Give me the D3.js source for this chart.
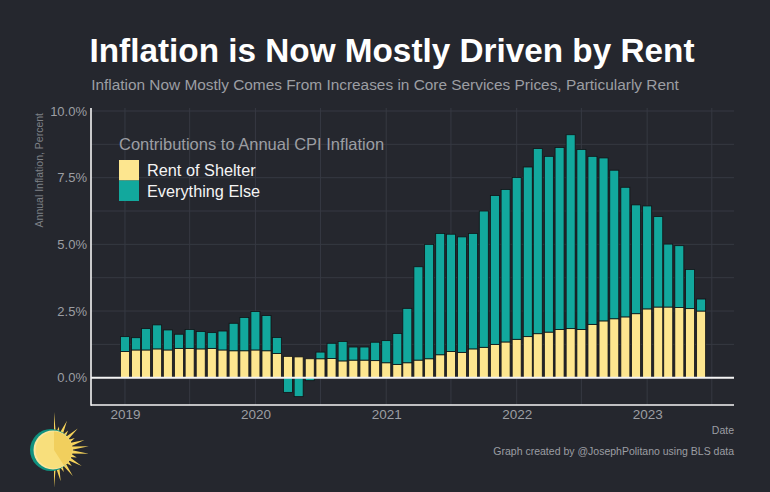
<!DOCTYPE html>
<html>
<head>
<meta charset="utf-8">
<script src="https://cdn.jsdelivr.net/npm/d3@7"></script>
<style>
  html, body { margin: 0; padding: 0; background: #25272e; }
  svg { display: block; font-family: "Liberation Sans", Arial, sans-serif; }
</style>
</head>
<body>
<div id="chart"></div>
<script>
// months shown, Jan 2019 .. Jun 2023
var months = [
  "2019-01","2019-02","2019-03","2019-04","2019-05","2019-06","2019-07","2019-08","2019-09","2019-10","2019-11","2019-12",
  "2020-01","2020-02","2020-03","2020-04","2020-05","2020-06","2020-07","2020-08","2020-09","2020-10","2020-11","2020-12",
  "2021-01","2021-02","2021-03","2021-04","2021-05","2021-06","2021-07","2021-08","2021-09","2021-10","2021-11","2021-12",
  "2022-01","2022-02","2022-03","2022-04","2022-05","2022-06","2022-07","2022-08","2022-09","2022-10","2022-11","2022-12",
  "2023-01","2023-02","2023-03","2023-04","2023-05","2023-06"
];

// contribution of rent of shelter, percentage points
var rentOfShelter = [
  0.98,1.04,1.04,1.08,1.04,1.10,1.10,1.08,1.10,1.04,1.01,1.01,
  1.04,1.01,0.91,0.80,0.78,0.71,0.71,0.72,0.63,0.66,0.66,0.64,
  0.56,0.50,0.56,0.66,0.71,0.86,0.98,0.95,1.08,1.14,1.25,1.34,
  1.44,1.54,1.65,1.71,1.81,1.84,1.81,2.00,2.13,2.21,2.28,2.40,
  2.58,2.65,2.65,2.63,2.59,2.50
];

// contribution of everything else, percentage points
var everythingElse = [
  0.56,0.46,0.80,0.90,0.75,0.53,0.71,0.65,0.59,0.71,1.03,1.25,
  1.44,1.32,0.60,-0.55,-0.71,-0.11,0.25,0.57,0.73,0.49,0.49,0.69,
  0.83,1.16,2.04,3.50,4.29,4.55,4.40,4.33,4.33,5.11,5.58,5.72,
  6.07,6.36,6.94,6.59,6.82,7.27,6.75,6.30,6.11,5.57,4.86,4.08,
  3.86,3.39,2.36,2.32,1.47,0.45
];

var yTicks = [0, 2.5, 5, 7.5, 10];
var yearTicks = ["2019-01-01","2020-01-01","2021-01-01","2022-01-01","2023-01-01"];

var W = 770, H = 492;
var C = {
  bg: "#25272e",
  grid: "#363942",
  rent: "#fde68f",
  other: "#12a89d",
  text: "#9c9ea3",
  white: "#f4f4f4"
};

var parseMonth = d3.timeParse("%Y-%m");
var parseDay = d3.timeParse("%Y-%m-%d");

var data = months.map(function(m, i){
  return { date: parseMonth(m), rent: rentOfShelter[i], other: everythingElse[i] };
});

var svg = d3.select("#chart").append("svg")
  .attr("width", W).attr("height", H);

svg.append("rect").attr("width", W).attr("height", H).attr("fill", C.bg);

var m = { left: 91, right: 734, top: 108, bottom: 405 };

var x = d3.scaleTime()
  .domain([parseDay("2018-09-28"), parseDay("2023-09-01")])
  .range([m.left, m.right]);

var y = d3.scaleLinear()
  .domain([0, 10])
  .range([377.7, 111]);

// title block
svg.append("text")
  .attr("x", 392).attr("y", 62)
  .attr("text-anchor", "middle")
  .attr("fill", "#ffffff")
  .style("font-weight", "bold")
  .style("font-size", "33.3px")
  .text("Inflation is Now Mostly Driven by Rent");

svg.append("text")
  .attr("x", 385).attr("y", 90)
  .attr("text-anchor", "middle")
  .attr("fill", C.text)
  .style("font-size", "15.4px")
  .text("Inflation Now Mostly Comes From Increases in Core Services Prices, Particularly Rent");

// gridlines
var g = svg.append("g");

var yGrid = d3.range(0, 10.01, 1.25);
g.selectAll(".hgrid").data(yGrid).enter().append("line")
  .attr("x1", m.left).attr("x2", m.right)
  .attr("y1", function(d){ return y(d); })
  .attr("y2", function(d){ return y(d); })
  .attr("stroke", C.grid).attr("stroke-width", 1);

var xGrid = d3.timeMonth.every(6).range(parseDay("2019-01-01"), parseDay("2023-08-01"));
g.selectAll(".vgrid").data(xGrid).enter().append("line")
  .attr("x1", function(d){ return x(d); })
  .attr("x2", function(d){ return x(d); })
  .attr("y1", m.top).attr("y2", m.bottom)
  .attr("stroke", C.grid).attr("stroke-width", 1);

// bars
var bw = 9;
var bars = svg.append("g");

bars.selectAll(".rent").data(data).enter().append("rect")
  .attr("x", function(d){ return x(d.date) - bw / 2; })
  .attr("width", bw)
  .attr("y", function(d){ return y(d.rent); })
  .attr("height", function(d){ return y(0) - y(d.rent); })
  .attr("fill", C.rent)
  .attr("stroke", "#111214").attr("stroke-width", 0.8);

bars.selectAll(".other").data(data).enter().append("rect")
  .attr("x", function(d){ return x(d.date) - bw / 2; })
  .attr("width", bw)
  .attr("y", function(d){
    return d.other >= 0 ? y(d.rent + d.other) : y(0);
  })
  .attr("height", function(d){
    return d.other >= 0 ? y(d.rent) - y(d.rent + d.other) : y(d.other) - y(0);
  })
  .attr("fill", C.other)
  .attr("stroke", "#111214").attr("stroke-width", 0.8);

// zero line
svg.append("line")
  .attr("x1", m.left).attr("x2", m.right)
  .attr("y1", y(0)).attr("y2", y(0))
  .attr("stroke", C.white).attr("stroke-width", 2);

// axes
var yAxis = d3.axisLeft(y)
  .tickValues(yTicks)
  .tickSize(0).tickPadding(4)
  .tickFormat(function(d){ return d3.format(".1f")(d) + "%"; });

var ya = svg.append("g").attr("transform", "translate(" + m.left + ",0)").call(yAxis);
ya.select(".domain").remove();
ya.selectAll("text").attr("fill", C.text).style("font-size", "13px")
  .style("font-family", "Liberation Sans, Arial, sans-serif");

var xAxis = d3.axisBottom(x)
  .tickValues(yearTicks.map(parseDay))
  .tickSize(0).tickPadding(4)
  .tickFormat(d3.timeFormat("%Y"));

var xa = svg.append("g").attr("transform", "translate(0," + m.bottom + ")").call(xAxis);
xa.select(".domain").remove();
xa.selectAll("text").attr("fill", C.text).style("font-size", "13.5px")
  .style("font-family", "Liberation Sans, Arial, sans-serif");

svg.append("line")
  .attr("x1", m.left).attr("x2", m.left)
  .attr("y1", m.top).attr("y2", m.bottom + 0.8)
  .attr("stroke", C.white).attr("stroke-width", 1.6);
svg.append("line")
  .attr("x1", m.left).attr("x2", m.right)
  .attr("y1", m.bottom).attr("y2", m.bottom)
  .attr("stroke", C.white).attr("stroke-width", 1.6);

// axis titles
svg.append("text")
  .attr("transform", "translate(43,113) rotate(-90)")
  .attr("text-anchor", "end")
  .attr("fill", "#7d8086")
  .style("font-size", "10.5px")
  .text("Annual Inflation, Percent");

svg.append("text")
  .attr("x", m.right).attr("y", 434)
  .attr("text-anchor", "end")
  .attr("fill", C.text)
  .style("font-size", "10.5px")
  .text("Date");

svg.append("text")
  .attr("x", m.right).attr("y", 455)
  .attr("text-anchor", "end")
  .attr("fill", C.text)
  .style("font-size", "10.5px")
  .text("Graph created by @JosephPolitano using BLS data");

// legend
var lg = svg.append("g");
lg.append("text")
  .attr("x", 119).attr("y", 150)
  .attr("fill", C.text)
  .style("font-size", "16.5px")
  .text("Contributions to Annual CPI Inflation");

var legendItems = [
  { label: "Rent of Shelter", color: C.rent },
  { label: "Everything Else", color: C.other }
];
legendItems.forEach(function(d, i){
  lg.append("rect")
    .attr("x", 119).attr("y", 160 + i * 20.5)
    .attr("width", 20).attr("height", 20.5)
    .attr("fill", d.color);
  lg.append("text")
    .attr("x", 147).attr("y", 176 + i * 20.5)
    .attr("fill", C.white)
    .style("font-size", "16.3px")
    .text(d.label);
});

// sun logo
var logo = svg.append("g").attr("transform", "translate(54,450)");
var spikes = [];
var n = 15;
for (var i = 0; i <= n; i++) {
  var a = -Math.PI / 2 + Math.PI * i / n;
  var outer = (i % 2 === 0) ? 32 : 24;
  if (i === 0 || i === n) outer = 38;
  if (i === 7 || i === 8) outer = 35;
  spikes.push([Math.cos(a) * outer, Math.sin(a) * outer]);
  if (i < n) {
    var b = a + Math.PI / (2 * n);
    spikes.push([Math.cos(b) * 17, Math.sin(b) * 17]);
  }
}
logo.append("polygon")
  .attr("points", spikes.map(function(p){ return p.join(","); }).join(" "))
  .attr("fill", "#f6d35a");
logo.append("circle").attr("cx", -3).attr("cy", 0).attr("r", 21).attr("fill", "#10917f");
logo.append("circle").attr("cx", -1).attr("cy", 0).attr("r", 19.5).attr("fill", "#fbe6a0");
logo.append("circle").attr("cx", 0).attr("cy", 0).attr("r", 18.5).attr("fill", "#f8df7c");
logo.append("path")
  .attr("d", "M0,-18.5 L0,0 L10,15.5 A18.5,18.5 0 0 0 0,-18.5 Z")
  .attr("fill", "#f1cf5d");
</script>
</body>
</html>
